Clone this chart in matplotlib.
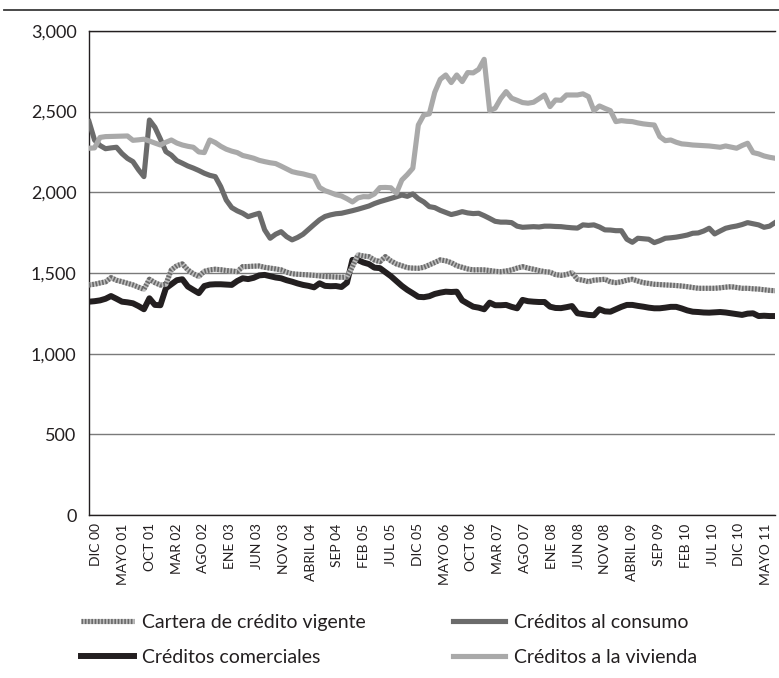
import numpy as np
import matplotlib
matplotlib.use("Agg")
import matplotlib.pyplot as plt
from matplotlib.lines import Line2D

plt.rcParams["font.family"] = ["Lato", "DejaVu Sans"]

# Monthly series, Dec 2000 .. May 2011 (126 months)
TICK_LABELS = ["DIC 00", "MAYO 01", "OCT 01", "MAR 02", "AGO 02", "ENE 03",
               "JUN 03", "NOV 03", "ABRIL 04", "SEP 04", "FEB 05", "JUL 05",
               "DIC 05", "MAYO 06", "OCT 06", "MAR 07", "AGO 07", "ENE 08",
               "JUN 08", "NOV 08", "ABRIL 09", "SEP 09", "FEB 10", "JUL 10",
               "DIC 10", "MAYO 11"]

cartera = [
    1426, 1430, 1438, 1445, 1471, 1455, 1446, 1436, 1426, 1412,
    1399, 1461, 1440, 1425, 1430, 1519, 1545, 1556, 1519, 1495,
    1478, 1510, 1519, 1523, 1520, 1515, 1512, 1508, 1539, 1540,
    1542, 1543, 1535, 1530, 1525, 1519, 1505, 1495, 1492, 1490,
    1488, 1485, 1482, 1478, 1477, 1475, 1473, 1475, 1539, 1612,
    1605, 1601, 1580, 1570, 1601, 1575, 1556, 1545, 1533, 1530,
    1529, 1535, 1550, 1565, 1581, 1575, 1564, 1545, 1535, 1525,
    1519, 1520, 1519, 1515, 1510, 1508, 1512, 1519, 1530, 1539,
    1530, 1523, 1515, 1508, 1505, 1490, 1485, 1490, 1502, 1461,
    1455, 1446, 1455, 1458, 1461, 1445, 1440, 1445, 1455, 1461,
    1450, 1440, 1435, 1430, 1428, 1426, 1424, 1422, 1419, 1415,
    1410, 1405, 1405, 1405, 1405, 1408, 1412, 1415, 1410, 1405,
    1405, 1402, 1400, 1396, 1392, 1390]

comerciales = [
    1322, 1325, 1330, 1340, 1357, 1340, 1322, 1318, 1312, 1295,
    1275, 1343, 1302, 1300, 1405, 1430, 1455, 1461, 1416, 1395,
    1375, 1419, 1428, 1430, 1430, 1428, 1426, 1450, 1467, 1462,
    1470, 1485, 1488, 1480, 1472, 1467, 1455, 1446, 1435, 1426,
    1420, 1411, 1436, 1420, 1418, 1419, 1413, 1440, 1581, 1580,
    1565, 1555, 1533, 1530, 1505, 1480, 1450, 1420, 1395, 1374,
    1352, 1350, 1356, 1370, 1378, 1384, 1382, 1384, 1330, 1310,
    1291, 1285, 1275, 1316, 1300, 1300, 1302, 1290, 1281, 1333,
    1325, 1322, 1320, 1320, 1291, 1283, 1282, 1288, 1295, 1250,
    1245, 1240, 1238, 1275, 1262, 1260, 1275, 1290, 1302, 1302,
    1296, 1291, 1285, 1281, 1281, 1285, 1290, 1290, 1280, 1268,
    1260, 1258, 1255, 1254, 1256, 1258, 1255, 1250, 1245, 1240,
    1248, 1250, 1233, 1235, 1233, 1233]

consumo = [
    2438, 2324, 2290, 2270, 2275, 2279, 2240, 2210, 2190, 2140,
    2097, 2448, 2403, 2330, 2252, 2230, 2196, 2180, 2163, 2150,
    2135, 2118, 2105, 2097, 2035, 1952, 1905, 1885, 1870, 1849,
    1860, 1870, 1767, 1715, 1740, 1756, 1725, 1705, 1720, 1740,
    1770, 1800, 1829, 1850, 1860, 1867, 1870, 1878, 1886, 1895,
    1905, 1915, 1930, 1942, 1952, 1962, 1972, 1983, 1975, 1990,
    1960, 1940, 1911, 1905, 1888, 1875, 1862, 1870, 1880, 1872,
    1868, 1870, 1855, 1838, 1820, 1815, 1815, 1812, 1790, 1783,
    1785, 1787, 1785, 1790, 1790, 1788, 1787, 1783, 1780, 1778,
    1798, 1795, 1798, 1785, 1767, 1766, 1762, 1762, 1709, 1690,
    1715, 1712, 1709, 1688, 1700, 1715, 1718, 1722, 1728, 1735,
    1746, 1748, 1760, 1777, 1742, 1760, 1777, 1785, 1791, 1800,
    1812, 1805, 1798, 1783, 1790, 1812]

vivienda = [
    2273, 2275, 2340, 2345, 2346, 2347, 2348, 2349, 2322, 2325,
    2329, 2318, 2305, 2293, 2310, 2324, 2305, 2293, 2285, 2279,
    2250, 2246, 2324, 2308, 2285, 2267, 2255, 2246, 2228, 2220,
    2211, 2198, 2190, 2183, 2178, 2162, 2145, 2128, 2120, 2114,
    2105, 2097, 2030, 2010, 1998, 1985, 1977, 1960, 1940, 1965,
    1973, 1972, 1990, 2029, 2030, 2028, 1994, 2076, 2110, 2149,
    2417, 2479, 2486, 2620, 2700, 2727, 2680, 2727, 2686, 2742,
    2740, 2762, 2824, 2506, 2521, 2580, 2624, 2583, 2570, 2556,
    2552, 2558, 2580, 2603, 2531, 2572, 2570, 2603, 2603, 2603,
    2610, 2593, 2506, 2535, 2520, 2506, 2438, 2444, 2440, 2438,
    2430, 2424, 2420, 2417, 2345, 2320, 2324, 2310, 2300, 2297,
    2293, 2291, 2289, 2287, 2283, 2279, 2287, 2280, 2273, 2290,
    2304, 2246, 2238, 2225, 2217, 2211]

months = np.arange(len(cartera))

fig = plt.figure(figsize=(7.79, 6.78), dpi=100)
ax = fig.add_axes([0.1143, 0.2404, 0.8806, 0.714])

# thin rule across the top of the page
fig.add_artist(Line2D([0.005, 1.0], [0.985, 0.985], transform=fig.transFigure,
                      color="#3a3a3a", lw=1.3))

lw = 3.7
c_base, = ax.plot(months, cartera, color="#bdbdbd", lw=lw, solid_capstyle="butt", zorder=3)
c_dash, = ax.plot(months, cartera, color="#6a6a6a", lw=lw, dashes=[0.32, 0.32],
                  dash_capstyle="butt", zorder=3.1)
com, = ax.plot(months, comerciales, color="#231f20", lw=4.3, zorder=2.5)
con, = ax.plot(months, consumo, color="#6b6b6b", lw=lw, zorder=2.6)
viv, = ax.plot(months, vivienda, color="#a9a9a9", lw=lw, zorder=2.7)

ax.set_xlim(0, len(cartera) - 1)
ax.set_ylim(0, 3000)
ax.set_yticks(range(0, 3001, 500))
ax.set_yticklabels([f"{v:,}" for v in range(0, 3001, 500)], fontsize=13, color="#231f20")
ax.yaxis.grid(True, color="#7a7a7a", lw=1.0)
ax.set_axisbelow(True)

# label positions follow the original layout (slightly inset from the line ends)
ax.set_xticks(np.linspace(1.3, 123.4, len(TICK_LABELS)))
ax.set_xticklabels(TICK_LABELS, rotation=90, fontsize=10, color="#231f20")
ax.tick_params(axis="both", length=0)
ax.tick_params(axis="x", pad=6)
ax.tick_params(axis="y", pad=9)

for side in ("left", "bottom", "top"):
    ax.spines[side].set_color("#231f20")
    ax.spines[side].set_linewidth(1.0)
ax.spines["right"].set_visible(False)

leg = fig.legend([(c_base, c_dash), com, con, viv],
                 ["Cartera de crédito vigente", "Créditos comerciales",
                  "Créditos al consumo", "Créditos a la vivienda"],
                 ncol=2, loc="upper left", bbox_to_anchor=(0.104, 0.095),
                 bbox_transform=fig.transFigure,
                 frameon=False, fontsize=14, handlelength=2.7, handletextpad=0.42,
                 columnspacing=4.5, labelspacing=0.95, borderaxespad=0,
                 borderpad=0)
for t in leg.get_texts():
    t.set_color("#231f20")

fig.savefig("out.png", dpi=100, facecolor="white")
